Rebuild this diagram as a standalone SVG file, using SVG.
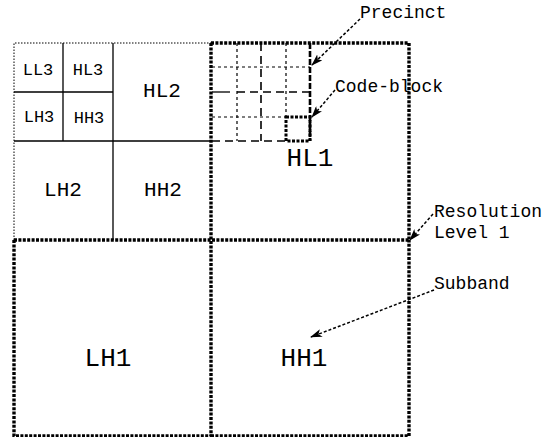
<svg xmlns="http://www.w3.org/2000/svg" width="549" height="437" viewBox="0 0 549 437">
  <style>
    text { font-family: "Liberation Mono", "Courier New", monospace; fill: #000; }
    .band { font-size: 26px; text-anchor: middle; }
    .band2 { font-size: 21px; text-anchor: middle; }
    .band3 { font-size: 17px; text-anchor: middle; }
    .note { font-size: 18px; }
    .solid { stroke: #000; stroke-width: 1.3; fill: none; }
    .thin-dot { stroke: #000; stroke-width: 1; stroke-dasharray: 1.5 1.5; fill: none; }
    .heavy-dot { stroke: #000; stroke-width: 3.4; stroke-dasharray: 3 1.4; fill: none; }
    .grid { stroke: #000; stroke-width: 1.2; stroke-dasharray: 3 3; fill: none; }
    .precinct { stroke: #000; stroke-width: 1.6; stroke-dasharray: 8 5; fill: none; }
    .precinct-edge { stroke: #000; stroke-width: 2.6; stroke-dasharray: 6 2; fill: none; }
    .block { stroke: #000; stroke-width: 3; stroke-dasharray: 3 1.5; fill: none; }
    .lead { stroke: #000; stroke-width: 1.5; stroke-dasharray: 3 2; fill: none; marker-end: url(#head); }
  </style>
  <defs>
    <marker id="head" viewBox="0 0 12 8" refX="11" refY="4" markerWidth="12" markerHeight="8" markerUnits="userSpaceOnUse" orient="auto">
      <path d="M0,0 L12,4 L0,8 L3,4 Z" fill="#000"/>
    </marker>
  </defs>

  <rect x="0" y="0" width="549" height="437" fill="#fff"/>

  <!-- level 2/3 subbands (LL1 area) -->
  <g id="ll1">
    <path class="thin-dot" d="M14,240 V43 H211"/>
    <path class="solid" d="M113,43 V240 M14,141 H211 M63,43 V141 M14,92 H113"/>
  </g>
  <g id="LL3"><text class="band3" x="38" y="75">LL3</text></g>
  <g id="HL3"><text class="band3" x="88" y="75">HL3</text></g>
  <g id="LH3"><text class="band3" x="39" y="122">LH3</text></g>
  <g id="HH3"><text class="band3" x="89" y="123">HH3</text></g>
  <g id="HL2"><text class="band2" x="162" y="97">HL2</text></g>
  <g id="LH2"><text class="band2" x="63" y="196">LH2</text></g>
  <g id="HH2"><text class="band2" x="163" y="196">HH2</text></g>

  <!-- HL1 with precinct / code-block grid -->
  <g id="HL1">
    <path class="grid" d="M237,43 V141 M286,43 V117 M212,67 H310 M212,117 H286"/>
    <path class="precinct" d="M261,43 V141 M237,92 H310 M212,141 H286"/>
    <path class="solid" d="M212,92 H230"/>
    <path class="precinct-edge" d="M310,43 V141"/>
    <rect class="block" x="286" y="117" width="24" height="24"/>
    <path class="heavy-dot" d="M211,43 H409 V240"/>
    <text class="band" x="310" y="166">HL1</text>
  </g>

  <g id="LH1">
    <path class="heavy-dot" d="M14,240 V436 H211"/>
    <text class="band" x="108" y="366">LH1</text>
  </g>

  <g id="HH1">
    <path class="heavy-dot" d="M211,436 H409 V240"/>
    <text class="band" x="304" y="366">HH1</text>
  </g>

  <!-- shared level-1 boundaries -->
  <g id="level1-split">
    <path class="heavy-dot" d="M211,43 V436 M14,240 H409"/>
  </g>

  <!-- annotation labels -->
  <g id="labels">
    <text class="note" x="360" y="18">Precinct</text>
    <text class="note" x="335" y="92">Code-block</text>
    <text class="note" x="434" y="217">Resolution</text>
    <text class="note" x="434" y="238">Level 1</text>
    <text class="note" x="434" y="289">Subband</text>
  </g>

  <!-- leader arrows -->
  <g id="connectors">
    <path class="lead" d="M360,19 L312,65"/>
    <path class="lead" d="M335,90 L312,117"/>
    <path class="lead" d="M433,214 L410,240"/>
    <path class="lead" d="M434,290 L311,337"/>
  </g>
</svg>
